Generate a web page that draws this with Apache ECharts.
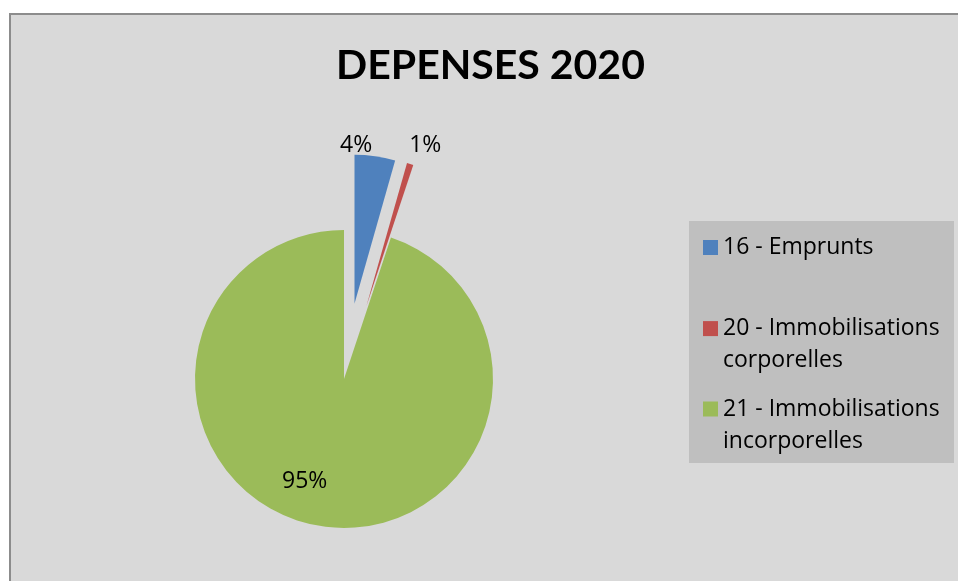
<!DOCTYPE html>
<html>
<head>
<meta charset="utf-8">
<script src="https://cdn.jsdelivr.net/npm/echarts@6/dist/echarts.min.js"></script>
<style>
  html, body { margin: 0; padding: 0; background: #ffffff; width: 958px; height: 581px; overflow: hidden; }
  #frame { position: absolute; left: 9px; top: 13px; width: 1000px; height: 700px; background: #d9d9d9;
           border-left: 2px solid #8c8c8c; border-top: 2px solid #8c8c8c; }
  #chart { position: absolute; left: 0; top: 0; width: 958px; height: 581px; }
</style>
</head>
<body>
<div id="frame"></div>
<div id="chart"></div>
<script>
// ---- data ----
const titleText = 'DEPENSES 2020';
const categories = ['16 - Emprunts', '20 - Immobilisations corporelles', '21 - Immobilisations incorporelles'];
const values = [4.4, 0.7, 94.9];
const exploded = [true, true, false];

// ---- styles / layout ----
const colors = ['#4f81bd', '#c0504d', '#9bbb59'];
const labelPositions = ['outside', 'outside', 'inside'];
const labelShift = [[-40, -11], [-6, -18], [-27, 25.5]];
const legendTops = [231.5, 280.6, 361];
const FONT = 'Open Sans';

const chart = echarts.init(document.getElementById('chart'), null, { renderer: 'canvas' });

function legendFormatter(name) {
  const m = name.match(/^(.*) ((?:in)?corporelles)$/);
  return m ? '\n' + m[1] + '\n' + m[2] : name;
}

const legends = categories.map((name, i) => ({
  data: [name],
  orient: 'vertical',
  left: 703,
  top: legendTops[i],
  padding: 0,
  itemWidth: 15,
  itemHeight: 15,
  icon: 'rect',
  selectedMode: false,
  formatter: legendFormatter,
  textStyle: { fontFamily: FONT, fontSize: 23, lineHeight: 32, color: '#000000' }
}));

const option = {
  animation: false,
  backgroundColor: 'transparent',
  color: colors,
  title: {
    text: titleText,
    left: 336,
    top: 45,
    padding: 0,
    textStyle: { fontFamily: 'Lato', fontSize: 41, fontWeight: 'bold', color: '#000000' }
  },
  graphic: [{
    type: 'rect', z: -1,
    shape: { x: 689, y: 221, width: 265, height: 242 },
    style: { fill: '#bfbfbf' }
  }],
  legend: legends,
  series: [{
    type: 'pie',
    center: [344, 379],
    radius: 149,
    startAngle: 90,
    clockwise: true,
    percentPrecision: 0,
    selectedMode: 'multiple',
    selectedOffset: 76,
    avoidLabelOverlap: false,
    emphasis: { disabled: true },
    label: {
      formatter: '{d}%',
      fontFamily: FONT, fontSize: 23, color: '#000000'
    },
    labelLine: { show: false, length: 0, length2: 0 },
    labelLayout: function (p) {
      const s = labelShift[p.dataIndex];
      return { dx: s[0], dy: s[1] };
    },
    data: categories.map((name, i) => ({
      name: name,
      value: values[i],
      selected: exploded[i],
      itemStyle: { color: colors[i] },
      label: { position: labelPositions[i] }
    }))
  }]
};
chart.setOption(option);
</script>
</body>
</html>
